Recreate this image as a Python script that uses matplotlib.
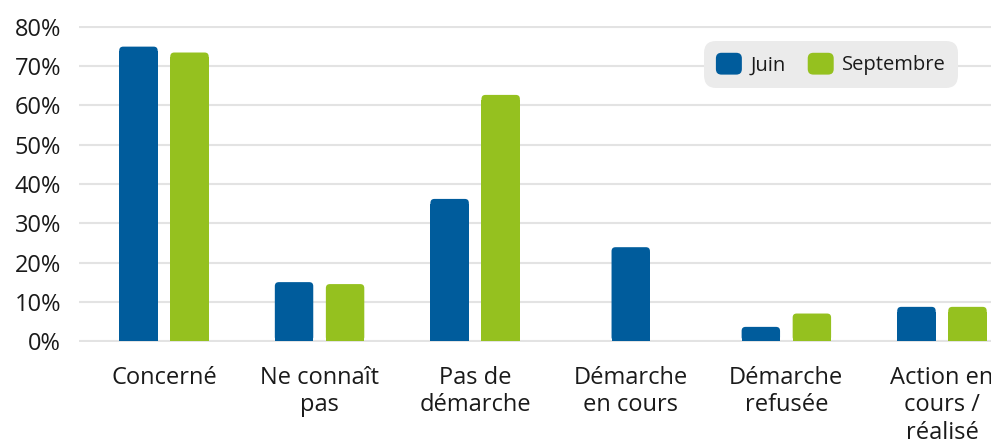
import textwrap
import numpy as np
import matplotlib
matplotlib.use("Agg")
import matplotlib.pyplot as plt
from matplotlib.patches import FancyBboxPatch, Rectangle
from matplotlib.legend_handler import HandlerPatch

# ---- data ----
categories = ["Concerné", "Ne connaît pas", "Pas de démarche",
              "Démarche en cours", "Démarche refusée", "Action en cours / réalisé"]
juin = [75.0, 15.0, 36.2, 23.9, 3.6, 8.7]
septembre = [73.5, 14.5, 62.7, None, 7.0, 8.7]
series_names = ["Juin", "Septembre"]
yticks = [0, 10, 20, 30, 40, 50, 60, 70, 80]
ytick_labels = [f"{v}%" for v in yticks]

# ---- style ----
BLUE = "#005c9c"
GREEN = "#95c11f"
GRID = "#e3e3e3"
TEXT = "#1a1a1a"
plt.rcParams['font.family'] = ['Open Sans', 'DejaVu Sans']

W, H = 991, 442
fig = plt.figure(figsize=(W / 100, H / 100), dpi=100)
px_per_pct = (341 - 27) / 80
ax_top = 27 - 0.3 * px_per_pct
ax_bot = 341 + 0.3 * px_per_pct
ax = fig.add_axes([79 / W, 1 - ax_bot / H, 1 - 79 / W, (ax_bot - ax_top) / H])

n = len(categories)
x = np.arange(n)
bar_w = 0.247
off = 0.164

ax.set_xlim(-0.546, -0.546 + 912 / 155.6)
ax.set_ylim(-0.3, 80.3)

xj = [i - off if s is not None else i for i, s in enumerate(septembre)]
xs = [i + off for i, s in enumerate(septembre) if s is not None]
vs = [s for s in septembre if s is not None]

bars_j = ax.bar(xj, juin, width=bar_w, color=BLUE, zorder=3)
bars_s = ax.bar(xs, vs, width=bar_w, color=GREEN, zorder=3)

# round the top corners of bars
inv = ax.transData.inverted()
p0 = inv.transform((0, 0))
p1 = inv.transform((1, 1))
ux, uy = p1[0] - p0[0], p1[1] - p0[1]
r_px = 4
for bars in (bars_j, bars_s):
    for rect in bars:
        bx, by = rect.get_x(), rect.get_y()
        bw, bh = rect.get_width(), rect.get_height()
        fc = rect.get_facecolor()
        rect.set_visible(False)
        ax.add_patch(FancyBboxPatch((bx, by), bw, bh,
                                    boxstyle=f"round,pad=0,rounding_size={r_px * ux}",
                                    mutation_aspect=uy / ux, fc=fc, ec="none", zorder=3))
        sq_h = max(bh - r_px * uy * 1.2, 0)
        ax.add_patch(Rectangle((bx, by), bw, sq_h, fc=fc, ec="none", zorder=3))

# axes styling
for s in ax.spines.values():
    s.set_visible(False)
ax.set_yticks(yticks)
ax.set_yticklabels(ytick_labels)
ax.yaxis.grid(True, color=GRID, linewidth=1.5, zorder=0)
ax.set_axisbelow(True)
ax.set_xticks(x)
ax.set_xticklabels([textwrap.fill(c, 10) for c in categories], linespacing=1.2)
ax.tick_params(axis="y", length=0, pad=13, labelsize=17, labelcolor=TEXT)
ax.tick_params(axis="x", length=0, pad=17, labelsize=17, labelcolor=TEXT)

# legend with rounded handles
class RoundHandler(HandlerPatch):
    def create_artists(self, legend, orig_handle, xdescent, ydescent,
                       width, height, fontsize, trans):
        p = FancyBboxPatch((-xdescent, -ydescent), width, height,
                           boxstyle="round,pad=0,rounding_size=4",
                           fc=orig_handle.get_facecolor(), ec="none", transform=trans)
        return [p]

handles = [Rectangle((0, 0), 1, 1, fc=BLUE), Rectangle((0, 0), 1, 1, fc=GREEN)]
leg = ax.legend(handles, series_names, loc="upper right",
                bbox_to_anchor=((958 - 79) / 912, (ax_bot - 40.7) / (ax_bot - ax_top)),
                borderaxespad=0, ncol=2, fontsize=14.5, frameon=True, framealpha=1,
                handlelength=1.29, handleheight=1.29, handletextpad=0.42,
                columnspacing=1.1, borderpad=0.6,
                handler_map={Rectangle: RoundHandler()})
fr = leg.get_frame()
fr.set_facecolor("#ebebeb")
fr.set_edgecolor("none")
fr.set_boxstyle("round,pad=0,rounding_size=0.6")
for t in leg.get_texts():
    t.set_color(TEXT)

fig.savefig("out.png", dpi=100)
